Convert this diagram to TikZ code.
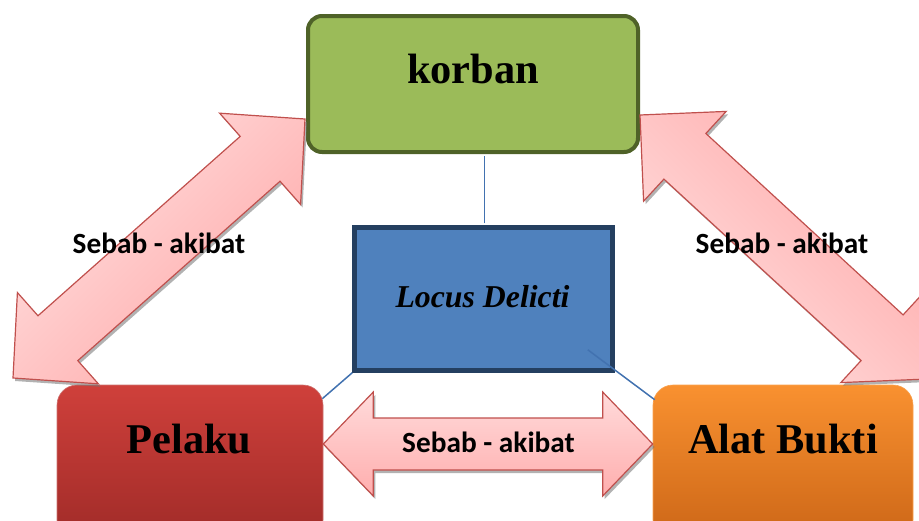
\documentclass[tikz,border=0pt]{standalone}
\usepackage{fontspec}
\setmainfont{Liberation Serif}
\newfontfamily\labelfont{Carlito}
\usetikzlibrary{calc}
\definecolor{kfill}{HTML}{9BBB59}
\definecolor{kline}{HTML}{4F6228}
\definecolor{lfill}{HTML}{4F81BD}
\definecolor{lline}{HTML}{243F60}
\definecolor{ptop}{HTML}{CF403B}
\definecolor{pbot}{HTML}{A02B28}
\definecolor{atop}{HTML}{F99130}
\definecolor{abot}{HTML}{CC6617}
\definecolor{arline}{HTML}{C0504D}
\definecolor{arlight}{HTML}{FFE0E0}
\definecolor{ardark}{HTML}{FFA8A8}
\definecolor{connblue}{HTML}{4272B0}
\newcommand{\myarrowpath}[5]{(#1) -- ($(#1)!#3!(#2)!#4!90:(#2)$) -- ($(#1)!#3!(#2)!#5!90:(#2)$) -- ($(#2)!#3!(#1)!#5!-90:(#1)$) -- ($(#2)!#3!(#1)!#4!-90:(#1)$) -- (#2) -- ($(#2)!#3!(#1)!#4!90:(#1)$) -- ($(#2)!#3!(#1)!#5!90:(#1)$) -- ($(#1)!#3!(#2)!#5!-90:(#2)$) -- ($(#1)!#3!(#2)!#4!-90:(#2)$) -- cycle}
\begin{document}
\begin{tikzpicture}[x=1pt,y=-1pt,
  kbox/.style={draw=kline, line width=4pt, fill=kfill, rounded corners=14pt, minimum width=330pt, minimum height=136pt, inner sep=0pt},
  lbox/.style={draw=lline, line width=4.5pt, fill=lfill, minimum width=258pt, minimum height=143pt, inner sep=0pt},
  pbox/.style={draw=arline!80!white, line width=0.6pt, top color=ptop, bottom color=pbot, rounded corners=20pt, minimum width=266pt, minimum height=155pt, inner sep=0pt},
  abox/.style={draw=atop!85!white, line width=0.6pt, top color=atop, bottom color=abot, rounded corners=20pt, minimum width=260pt, minimum height=155pt, inner sep=0pt},
  bigtext/.style={font=\fontsize{42.4}{50}\selectfont\bfseries, anchor=base, inner sep=0pt},
  loctext/.style={font=\fontsize{31.8}{38}\selectfont\bfseries\itshape, anchor=base, inner sep=0pt},
  reltext/.style={font=\labelfont\bfseries\fontsize{29.3}{34}\selectfont, anchor=base, inner sep=0pt},
  conn/.style={draw=connblue, line width=1.5pt},
  blockarrow/.style={draw=arline, line width=1.2pt, line join=miter},
  arshadow/.style={fill=black!55, opacity=0.55}
]
\useasboundingbox (0,0) rectangle (919,520);

% boxes
\node[kbox] (korban) at (473,84) {};
\node[lbox] (locus) at (483.5,299) {};
\node[pbox] (pelaku) at (190,462.5) {};
\node[abox] (alat) at (783,462.5) {};

% texts
\node[bigtext] (korbantxt) at ($(korban.center)+(0,-1)$) {korban};
\node[loctext] (locustxt) at ($(locus.center)+(-1,8)$) {Locus Delicti};
\node[bigtext] (pelakutxt) at ($(pelaku.center)+(-1,-9.5)$) {Pelaku};
\node[bigtext] (alattxt) at ($(alat.center)+(0,-9.5)$) {Alat Bukti};

% connectors
\draw[conn] ($(locus.north)+(1,-2)$) -- ($(locus.north |- korban.south)+(1,2)$);
\draw[conn] (locus.south west) -- ($(pelaku.north east)+(-1,14)$);
\draw[conn] ($(locus.south east)+(-27,-23)$) -- ($(alat.north west)+(2,15)$);

% block arrow end points
\coordinate (LA) at (13,378);
\coordinate (LB) at (305,119);
\coordinate (RA) at (640,115);
\coordinate (RB) at (927,379);
\coordinate (HA) at (pelaku.east |- 0,444);
\coordinate (HB) at (alat.west |- 0,444);

% shadows
\begin{scope}[transform canvas={shift={(2pt,-3pt)}}]
  \fill[arshadow] \myarrowpath{LA}{LB}{60pt}{61pt}{30pt};
  \fill[arshadow] \myarrowpath{RA}{RB}{61pt}{61pt}{31pt};
  \fill[arshadow] \myarrowpath{HA}{HB}{50pt}{52pt}{26pt};
\end{scope}

% block arrows
\draw[blockarrow, top color=arlight, bottom color=ardark, shading angle=45] \myarrowpath{LA}{LB}{60pt}{61pt}{30pt};
\draw[blockarrow, top color=ardark, bottom color=arlight, shading angle=-45] \myarrowpath{RA}{RB}{61pt}{61pt}{31pt};
\draw[blockarrow, top color=arlight!90!ardark, bottom color=ardark!90!arlight] \myarrowpath{HA}{HB}{50pt}{52pt}{26pt};

% relation labels
\node[reltext] (rel1) at (159,253) {Sebab - akibat};
\node[reltext] (rel2) at (782,253) {Sebab - akibat};
\node[reltext] (rel3) at (488.5,452) {Sebab - akibat};
\end{tikzpicture}
\end{document}
